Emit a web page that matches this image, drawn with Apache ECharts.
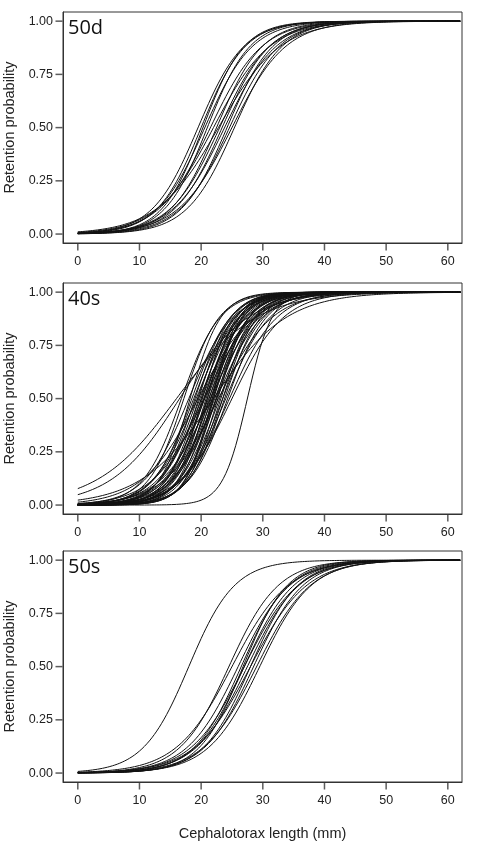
<!DOCTYPE html>
<html><head><meta charset="utf-8">
<script src="https://cdn.jsdelivr.net/npm/echarts@6/dist/echarts.min.js"></script>
<style>html,body{margin:0;padding:0;background:#fff}#c{width:479px;height:857px}</style>
</head><body><div id="c"></div>
<script>
// Panel labels and tick labels
const panelNames = ["50d", "40s", "50s"];
const xTicks = [0, 10, 20, 30, 40, 50, 60];
const yTicks = [0, 0.25, 0.5, 0.75, 1];
// Logistic curve parameters (L50 in mm, slope k)
const l50_50d = [19.5,20,20.3,20.6,21,21.5,22,22.5,23,23.4,23.8,24.2,24.6,25,25.4,22.8];
const k_50d   = [0.27,0.28,0.30,0.26,0.29,0.24,0.22,0.27,0.25,0.26,0.24,0.27,0.25,0.23,0.26,0.20];
const l50_40s = [16,16.5,16.8,17.2,27.5,22,18,18.5,18.8,19,19.2,19.4,19.6,19.8,20,20.1,20.2,20.4,20.5,20.6,20.8,21,21,21.2,21.3,21.5,21.6,21.8,22,22,22.2,22.4,22.5,22.7,23,23.2,23.5,23.8,24,24.3,24.6,25,19.5,20.5,21.5,22.5,23.5,18.2,21.8,22.8];
const k_40s   = [0.155,0.18,0.32,0.35,0.50,0.17,0.28,0.32,0.30,0.35,0.29,0.33,0.38,0.31,0.36,0.28,0.40,0.32,0.35,0.30,0.38,0.33,0.42,0.29,0.36,0.32,0.39,0.31,0.35,0.44,0.30,0.37,0.33,0.40,0.32,0.36,0.30,0.34,0.28,0.32,0.26,0.24,0.22,0.24,0.25,0.27,0.36,0.40,0.45,0.23];
const l50_50s = [18,24.5,25,26,26.5,27,27,27.5,28,28,28.5,29,29.5,26.8];
const k_50s   = [0.27,0.25,0.22,0.24,0.26,0.23,0.25,0.24,0.26,0.22,0.25,0.23,0.24,0.28];

const params = [[l50_50d,k_50d],[l50_40s,k_40s],[l50_50s,k_50s]];
const tops = [12, 283, 551];
const H = 231;
const XMIN = -2.4, XMAX = 62.3, YMIN = -0.042, YMAX = 1.043;

const grids = [], xAxes = [], yAxes = [], series = [], graphics = [];
const lab = {fontFamily:"Liberation Sans, Arial", fontSize:12.5, color:"#222"};
const axLine = {show:true, onZero:false, lineStyle:{color:"#333", width:1}};
params.forEach((p, i) => {
  grids.push({left:63, right:17, top:tops[i], height:H, show:true, borderColor:"#333", borderWidth:1,
    backgroundColor:"transparent", outerBoundsMode:"none", containLabel:false});
  xAxes.push({type:"value", gridIndex:i, min:XMIN, max:XMAX,
    axisLine:axLine, splitLine:{show:false},
    axisTick:{show:false},
    axisLabel:Object.assign({margin:12, customValues:xTicks}, lab),
    name: i===2 ? "Cephalotorax length (mm)" : "", nameLocation:"middle", nameGap:44,
    nameTextStyle:{fontFamily:"Liberation Sans, Arial", fontSize:14.5, color:"#222"}});
  yAxes.push({type:"value", gridIndex:i, min:YMIN, max:YMAX,
    axisLine:axLine, splitLine:{show:false},
    axisTick:{show:false},
    axisLabel:Object.assign({margin:10, customValues:yTicks, formatter:v=>v.toFixed(2)}, lab),
    name:"Retention probability", nameLocation:"middle", nameGap:32,
    nameTextStyle:{fontFamily:"Liberation Sans, Arial", fontSize:14.5, color:"#222"}});
  const [L, K] = p;
  L.forEach((l50, j) => {
    const k = K[j], pts = [];
    for (let x = 0; x <= XMAX + 0.001; x += 0.4) pts.push([x, 1/(1+Math.exp(-k*(x-l50)))]);
    series.push({type:"line", xAxisIndex:i, yAxisIndex:i, data:pts, showSymbol:false, silent:true,
      lineStyle:{color:"#111", width:1}});
  });
  // tick marks as rect symbols placed by the axes
  series.push({type:"scatter", xAxisIndex:i, yAxisIndex:i, clip:false, silent:true, z:10,
    data:xTicks.map(v => [v, YMIN]), symbol:"rect", symbolSize:[1.5,7], symbolOffset:[0,4],
    itemStyle:{color:"#333"}});
  series.push({type:"scatter", xAxisIndex:i, yAxisIndex:i, clip:false, silent:true, z:10,
    data:yTicks.map(v => [XMIN, v]), symbol:"rect", symbolSize:[7,1.5], symbolOffset:[-4,0],
    itemStyle:{color:"#333"}});
  graphics.push({type:"text", left:68, top:tops[i]+6, style:{text:panelNames[i], fontFamily:"Open Sans, Noto Sans", fontSize:20, fill:"#111"}});
});
const chart = echarts.init(document.getElementById("c"), null, {renderer:"canvas"});
chart.setOption({animation:false, grid:grids, xAxis:xAxes, yAxis:yAxes, series:series, graphic:graphics});
</script></body></html>
